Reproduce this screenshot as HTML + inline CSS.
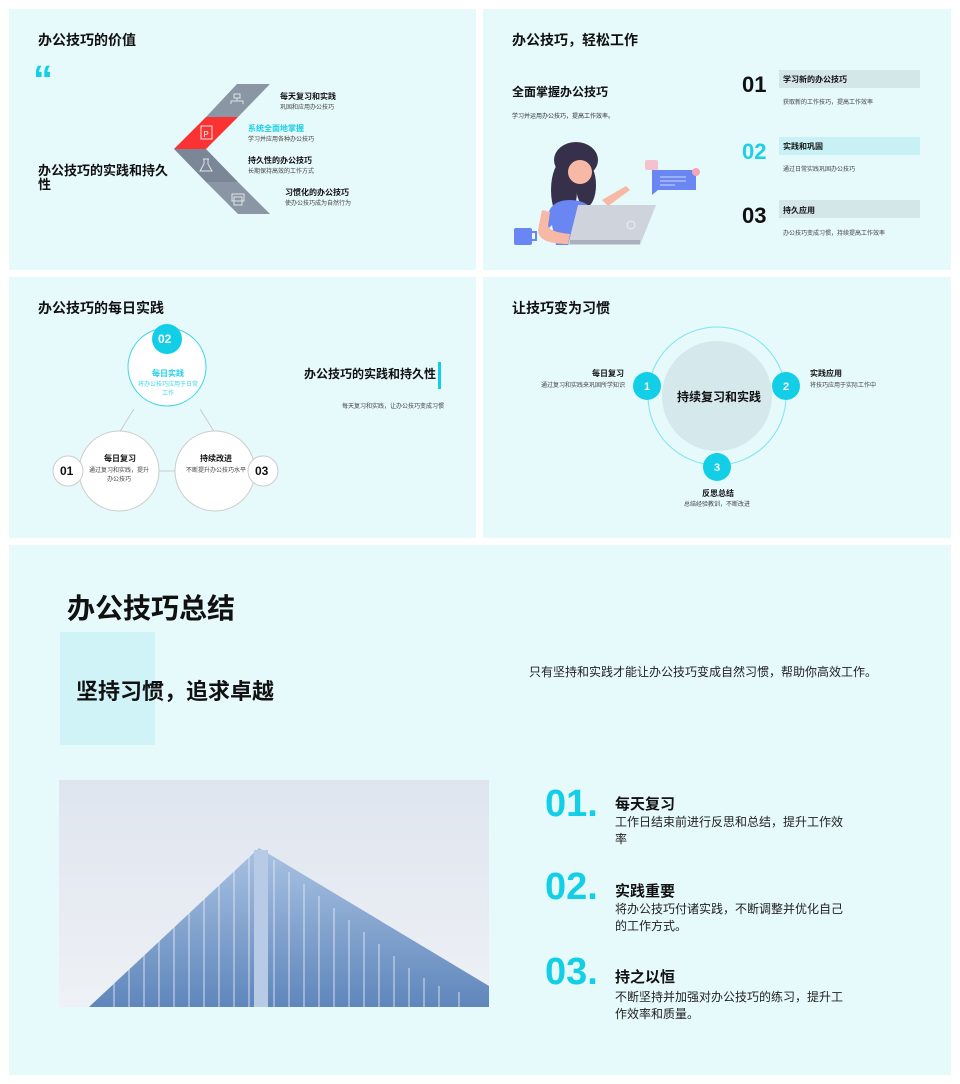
<!DOCTYPE html>
<html><head><meta charset="utf-8"><style>
*{margin:0;padding:0;box-sizing:border-box}
body{width:960px;height:1084px;background:#fff;position:relative;font-family:"Liberation Sans","Noto Sans CJK SC",sans-serif;color:#111;overflow:hidden}
.p{position:absolute;background:#e6f9fb}
.t{position:absolute;white-space:nowrap}
.b{font-weight:bold}
</style></head><body>
<div class="p" style="left:9px;top:9px;width:467px;height:261px"></div>
<div class="p" style="left:483px;top:9px;width:468px;height:261px"></div>
<div class="p" style="left:9px;top:277px;width:467px;height:261px"></div>
<div class="p" style="left:483px;top:277px;width:468px;height:261px"></div>
<div class="p" style="left:9px;top:545px;width:942px;height:530px"></div>

<!-- panel 1 -->
<div class="t b" style="left:38px;top:30px;font-size:14px">办公技巧的价值</div>
<div class="t b" style="left:33px;top:60px;font-size:40px;line-height:40px;color:#12cfe7;font-family:'Liberation Sans',sans-serif">“</div>
<div class="t b" style="left:38px;top:164px;font-size:13px;line-height:14px;white-space:normal;width:134px">办公技巧的实践和持久性</div>
<svg style="position:absolute;left:0;top:0" width="480" height="270">
<polygon points="237,84 270,84 238,117 206,117" fill="#8a96a3"/>
<polygon points="206,117 238,117 206,149 174,149" fill="#fa3232"/>
<polygon points="174,149 206,149 238,182 206,182" fill="#7b8796"/>
<polygon points="206,182 238,182 270,214 238,214" fill="#8a96a3"/>
<g fill="none" stroke="#dfe4ea" stroke-width="1">
<rect x="234" y="94" width="6" height="4"/><path d="M237 98v3M231 104v-3h12v3"/>
<rect x="201" y="126" width="11" height="13"/>
<path d="M203 159h6M204 159v5l-4 7h12l-4-7v-5"/>
<rect x="232" y="194" width="12" height="7"/><rect x="234" y="197" width="8" height="8"/>
</g>
<text x="206" y="137" font-size="8" fill="#fff" text-anchor="middle" font-family="Liberation Sans">P</text>
</svg>
<div class="t b" style="left:280px;top:91px;font-size:8px">每天复习和实践</div>
<div class="t" style="left:280px;top:102px;font-size:6px;color:#444">巩固和应用办公技巧</div>
<div class="t b" style="left:248px;top:123px;font-size:8px;color:#1ecfe6">系统全面地掌握</div>
<div class="t" style="left:248px;top:134px;font-size:6px;color:#444">学习并应用各种办公技巧</div>
<div class="t b" style="left:248px;top:155px;font-size:8px">持久性的办公技巧</div>
<div class="t" style="left:248px;top:166px;font-size:6px;color:#444">长期保持高效的工作方式</div>
<div class="t b" style="left:285px;top:187px;font-size:8px">习惯化的办公技巧</div>
<div class="t" style="left:285px;top:198px;font-size:6px;color:#444">使办公技巧成为自然行为</div>

<!-- panel 2 -->
<div class="t b" style="left:512px;top:30px;font-size:14px">办公技巧，轻松工作</div>
<div class="t b" style="left:512px;top:83px;font-size:12px">全面掌握办公技巧</div>
<div class="t" style="left:512px;top:111px;font-size:6px;color:#333">学习并运用办公技巧，提高工作效率。</div>
<svg style="position:absolute;left:480px;top:0" width="250" height="270">
<ellipse cx="96" cy="160" rx="22" ry="18" fill="#37304a"/>
<ellipse cx="84" cy="190" rx="13" ry="30" fill="#37304a"/>
<ellipse cx="106" cy="185" rx="10" ry="22" fill="#37304a"/>
<circle cx="100" cy="172" r="12" fill="#f7b9a6"/>
<path d="M68 214q4-14 22-14q18 0 26 14l-4 8-4-2v25H76l-4-20-4 4z" fill="#6a86f2"/>
<path d="M62 210l-4 20q0 14 30 14l2-10q-20-2-22-8l2-14z" fill="#f7b9a6"/>
<path d="M98 205h78l-16 40H88z" fill="#cfd3dc"/>
<circle cx="151" cy="225" r="4" fill="none" stroke="#eee" stroke-width="1"/>
<rect x="90" y="240" width="70" height="4" fill="#aab0bc"/>
<path d="M122 200l24-14 4 4-22 16z" fill="#f7b9a6"/>
<rect x="165" y="160" width="13" height="10" rx="2" fill="#f4c1cf"/>
<path d="M172 170h44v20h-38l-6 5z" fill="#6a86f2"/>
<g stroke="#cfd9ff" stroke-width="1"><line x1="180" y1="177" x2="206" y2="177"/><line x1="180" y1="181" x2="206" y2="181"/><line x1="180" y1="185" x2="195" y2="185"/></g>
<circle cx="216" cy="172" r="4" fill="#f4a6b7"/>
<rect x="34" y="228" width="18" height="17" rx="2" fill="#6a86f2"/>
<path d="M52 232h4v8h-4" fill="none" stroke="#6a86f2" stroke-width="2"/>
</svg>
<div class="t b" style="left:742px;top:72px;font-size:22px">01</div>
<div class="t b" style="left:742px;top:139px;font-size:22px;color:#1ecfe6">02</div>
<div class="t b" style="left:742px;top:203px;font-size:22px">03</div>
<div style="position:absolute;left:779px;top:70px;width:141px;height:18px;background:#d5e6e9"></div>
<div style="position:absolute;left:779px;top:137px;width:141px;height:18px;background:#c8f1f5"></div>
<div style="position:absolute;left:779px;top:200px;width:141px;height:18px;background:#d5e6e9"></div>
<div class="t b" style="left:783px;top:74px;font-size:8px">学习新的办公技巧</div>
<div class="t" style="left:783px;top:97px;font-size:6px;color:#444">获取新的工作技巧，提高工作效率</div>
<div class="t b" style="left:783px;top:141px;font-size:8px">实践和巩固</div>
<div class="t" style="left:783px;top:164px;font-size:6px;color:#444">通过日常实践巩固办公技巧</div>
<div class="t b" style="left:783px;top:205px;font-size:8px">持久应用</div>
<div class="t" style="left:783px;top:228px;font-size:6px;color:#444">办公技巧变成习惯，持续提高工作效率</div>

<!-- panel 3 -->
<div class="t b" style="left:38px;top:298px;font-size:14px">办公技巧的每日实践</div>
<svg style="position:absolute;left:0;top:270px" width="480" height="270">
<g stroke="#ccc" stroke-width="1" fill="none"><line x1="134" y1="139" x2="119" y2="163"/><line x1="200" y1="139" x2="215" y2="163"/><line x1="159" y1="201" x2="175" y2="201"/></g>
<circle cx="167" cy="97" r="39" fill="#fff" stroke="#3fd6ea" stroke-width="1"/>
<circle cx="167" cy="69" r="15" fill="#12cfe7"/>
<circle cx="119" cy="201" r="40" fill="#fff" stroke="#ccc"/>
<circle cx="215" cy="201" r="40" fill="#fff" stroke="#ccc"/>
<circle cx="68" cy="201" r="15" fill="#fff" stroke="#ccc"/>
<circle cx="263" cy="201" r="15" fill="#fff" stroke="#ccc"/>
</svg>
<div class="t b" style="left:158px;top:332px;font-size:12px;color:#fff">02</div>
<div class="t b" style="left:152px;top:368px;font-size:8px;color:#1ecfe6">每日实践</div>
<div class="t" style="left:137px;top:381px;font-size:6px;color:#3fd6ea;white-space:normal;width:62px;text-align:center;line-height:9px">将办公技巧应用于日常工作</div>
<div class="t b" style="left:60px;top:464px;font-size:12px">01</div>
<div class="t b" style="left:255px;top:464px;font-size:12px">03</div>
<div class="t b" style="left:104px;top:453px;font-size:8px">每日复习</div>
<div class="t" style="left:89px;top:467px;font-size:6px;color:#444;white-space:normal;width:60px;text-align:center;line-height:9px">通过复习和实践，提升办公技巧</div>
<div class="t b" style="left:200px;top:453px;font-size:8px">持续改进</div>
<div class="t" style="left:186px;top:467px;font-size:6px;color:#444;white-space:normal;width:60px;text-align:center;line-height:9px">不断提升办公技巧水平</div>
<div class="t b" style="left:304px;top:365px;font-size:12px">办公技巧的实践和持久性</div>
<div style="position:absolute;left:438px;top:362px;width:3px;height:27px;background:#12cfe7"></div>
<div class="t" style="left:342px;top:401px;font-size:6px;color:#444">每天复习和实践，让办公技巧变成习惯</div>

<!-- panel 4 -->
<div class="t b" style="left:512px;top:298px;font-size:14px">让技巧变为习惯</div>
<svg style="position:absolute;left:480px;top:270px" width="480" height="270">
<circle cx="237" cy="126" r="69" fill="none" stroke="#7ee3f0" stroke-width="1"/>
<circle cx="237" cy="126" r="55" fill="#d5e8eb"/>
<circle cx="167" cy="116" r="14" fill="#12cfe7"/>
<circle cx="306" cy="116" r="14" fill="#12cfe7"/>
<circle cx="237" cy="197" r="14" fill="#12cfe7"/>
<g fill="#fff" font-size="11" font-weight="bold" text-anchor="middle" font-family="Liberation Sans"><text x="167" y="120">1</text><text x="306" y="120">2</text><text x="237" y="201">3</text></g>
</svg>
<div class="t b" style="left:677px;top:388px;font-size:12px">持续复习和实践</div>
<div class="t b" style="left:592px;top:368px;font-size:8px">每日复习</div>
<div class="t" style="left:541px;top:380px;font-size:6px;color:#444">通过复习和实践来巩固所学知识</div>
<div class="t b" style="left:810px;top:368px;font-size:8px">实践应用</div>
<div class="t" style="left:810px;top:380px;font-size:6px;color:#444">将技巧应用于实际工作中</div>
<div class="t b" style="left:702px;top:488px;font-size:8px">反思总结</div>
<div class="t" style="left:684px;top:499px;font-size:6px;color:#444">总结经验教训，不断改进</div>

<!-- bottom -->
<div class="t b" style="left:67px;top:587px;font-size:28px">办公技巧总结</div>
<div style="position:absolute;left:60px;top:632px;width:95px;height:113px;background:#cff3f7"></div>
<div class="t b" style="left:76px;top:674px;font-size:22px">坚持习惯，追求卓越</div>
<div class="t" style="left:529px;top:663px;font-size:12px;color:#222">只有坚持和实践才能让办公技巧变成自然习惯，帮助你高效工作。</div>
<svg style="position:absolute;left:59px;top:780px" width="430" height="227">
<defs><linearGradient id="sky" x1="0" y1="0" x2="0" y2="1"><stop offset="0" stop-color="#dfe5ef"/><stop offset="1" stop-color="#eef1f5"/></linearGradient>
<linearGradient id="bl" x1="0" y1="0" x2="0" y2="1"><stop offset="0" stop-color="#a9c2e2"/><stop offset="1" stop-color="#5f86bb"/></linearGradient></defs>
<rect width="430" height="227" fill="url(#sky)"/>
<polygon points="200,68 30,227 430,227 430,206" fill="url(#bl)"/>
<g stroke="#e8eef7" stroke-width="1.2" opacity="0.7">
<line x1="190" y1="76" x2="190" y2="227"/><line x1="175" y1="90" x2="175" y2="227"/><line x1="160" y1="104" x2="160" y2="227"/><line x1="145" y1="118" x2="145" y2="227"/><line x1="130" y1="132" x2="130" y2="227"/><line x1="115" y1="146" x2="115" y2="227"/><line x1="100" y1="160" x2="100" y2="227"/><line x1="85" y1="174" x2="85" y2="227"/><line x1="70" y1="188" x2="70" y2="227"/><line x1="55" y1="202" x2="55" y2="227"/>
<line x1="215" y1="80" x2="215" y2="227"/><line x1="230" y1="92" x2="230" y2="227"/><line x1="245" y1="104" x2="245" y2="227"/><line x1="260" y1="116" x2="260" y2="227"/><line x1="275" y1="128" x2="275" y2="227"/><line x1="290" y1="140" x2="290" y2="227"/><line x1="305" y1="152" x2="305" y2="227"/><line x1="320" y1="164" x2="320" y2="227"/><line x1="335" y1="176" x2="335" y2="227"/><line x1="350" y1="188" x2="350" y2="227"/><line x1="365" y1="198" x2="365" y2="227"/><line x1="380" y1="206" x2="380" y2="227"/><line x1="400" y1="212" x2="400" y2="227"/>
</g>
<rect x="195" y="70" width="14" height="157" fill="#b7cbe6"/>
</svg>
<div class="t b" style="left:545px;top:783px;font-size:38px;color:#12cfe7">01.</div>
<div class="t b" style="left:545px;top:866px;font-size:38px;color:#12cfe7">02.</div>
<div class="t b" style="left:545px;top:951px;font-size:38px;color:#12cfe7">03.</div>
<div class="t b" style="left:615px;top:793px;font-size:15px">每天复习</div>
<div class="t" style="left:615px;top:814px;font-size:12px;line-height:17px;color:#222;white-space:normal;width:230px">工作日结束前进行反思和总结，提升工作效率</div>
<div class="t b" style="left:615px;top:880px;font-size:15px">实践重要</div>
<div class="t" style="left:615px;top:901px;font-size:12px;line-height:17px;color:#222;white-space:normal;width:230px">将办公技巧付诸实践，不断调整并优化自己的工作方式。</div>
<div class="t b" style="left:615px;top:966px;font-size:15px">持之以恒</div>
<div class="t" style="left:615px;top:989px;font-size:12px;line-height:17px;color:#222;white-space:normal;width:230px">不断坚持并加强对办公技巧的练习，提升工作效率和质量。</div>
</body></html>
